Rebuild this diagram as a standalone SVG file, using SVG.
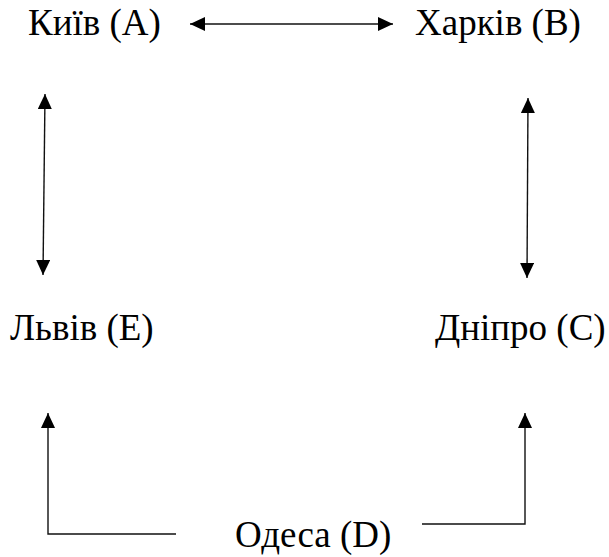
<svg xmlns="http://www.w3.org/2000/svg" width="609" height="557" viewBox="0 0 609 557">
<style>
.t{font-family:"Liberation Serif","Times New Roman",Times,Tinos,"Noto Serif","DejaVu Serif",FreeSerif,serif;font-size:37px;fill:#000}
.c{fill:none;stroke:#111;stroke-width:1.4}
</style>
<defs>
<marker id="ah" viewBox="0 0 15 14" refX="15" refY="7" markerWidth="15" markerHeight="14" markerUnits="userSpaceOnUse" orient="auto-start-reverse">
<path d="M0,0 L15,7 L0,14 Z" fill="#000"/>
</marker>
</defs>
<rect width="609" height="557" fill="#fff"/>
<g id="connectors">
<line class="c" x1="190" y1="24" x2="393" y2="24" marker-start="url(#ah)" marker-end="url(#ah)"/>
<line class="c" x1="45" y1="94" x2="43" y2="275" marker-start="url(#ah)" marker-end="url(#ah)"/>
<line class="c" x1="528" y1="98" x2="527" y2="278" marker-start="url(#ah)" marker-end="url(#ah)"/>
<polyline class="c" points="176,534 48,534 48,413" marker-end="url(#ah)"/>
<polyline class="c" points="422,524 525,524 525,413" marker-end="url(#ah)"/>
</g>
<g id="node-A"><text class="t" x="28" y="35">Київ (A)</text></g>
<g id="node-B"><text class="t" x="415" y="35">Харків (B)</text></g>
<g id="node-E"><text class="t" x="10" y="340">Львів (E)</text></g>
<g id="node-C"><text class="t" x="435" y="340">Дніпро (C)</text></g>
<g id="node-D"><text class="t" x="235" y="547">Одеса (D)</text></g>
</svg>
